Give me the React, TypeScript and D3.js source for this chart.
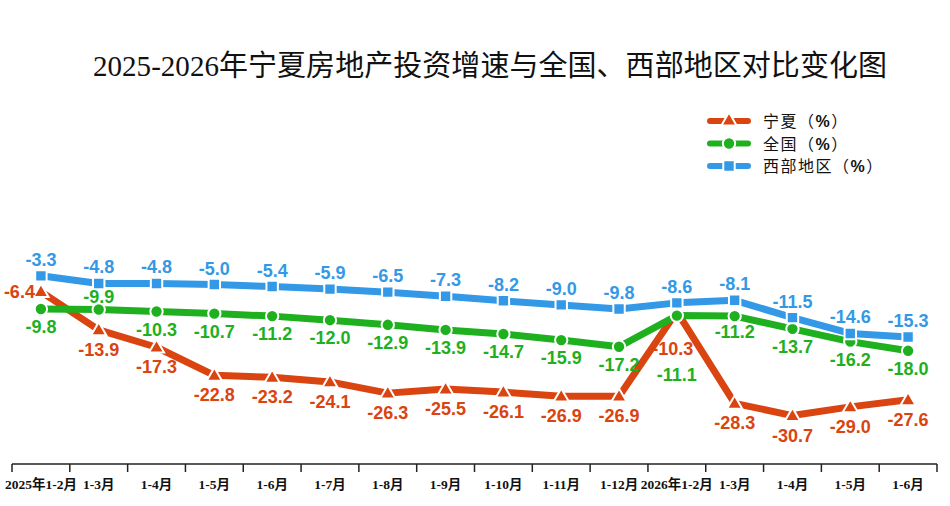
import React, { useEffect, useRef } from 'react';
import * as d3 from 'd3';

const months = [
  '2025年1-2月', '1-3月', '1-4月', '1-5月', '1-6月', '1-7月', '1-8月', '1-9月',
  '1-10月', '1-11月', '1-12月', '2026年1-2月', '1-3月 ', '1-4月 ', '1-5月 ', '1-6月 ',
];
const ningxia = [-6.4, -13.9, -17.3, -22.8, -23.2, -24.1, -26.3, -25.5, -26.1, -26.9, -26.9, -10.3, -28.3, -30.7, -29.0, -27.6];
const national = [-9.8, -9.9, -10.3, -10.7, -11.2, -12.0, -12.9, -13.9, -14.7, -15.9, -17.2, -11.1, -11.2, -13.7, -16.2, -18.0];
const western = [-3.3, -4.8, -4.8, -5.0, -5.4, -5.9, -6.5, -7.3, -8.2, -9.0, -9.8, -8.6, -8.1, -11.5, -14.6, -15.3];
const seriesNames = ['宁夏', '全国', '西部地区'];
const yDomain = [-40, 0];

const W = 950;
const H = 506;

export default function App() {
  const ref = useRef<SVGSVGElement>(null);

  useEffect(() => {
    if (!ref.current) return;
    const svg = d3.select(ref.current);
    svg.selectAll('*').remove();

    const x = d3.scaleBand<string>().domain(months).range([12, 937]).padding(0);
    const y = d3.scaleLinear().domain(yDomain).range([463, 259]);
    const cx = (i: number) => (x(months[i]) as number) + x.bandwidth() / 2;

    // title
    svg.append('text')
      .attr('x', 93).attr('y', 76)
      .attr('font-family', '"Liberation Serif", "Noto Sans CJK SC", serif')
      .attr('font-size', 29)
      .attr('textLength', 794).attr('lengthAdjust', 'spacing')
      .attr('fill', '#111')
      .text('2025-2026年宁夏房地产投资增速与全国、西部地区对比变化图');

    // x axis
    const axis = svg.append('g').attr('transform', 'translate(0,464)');
    axis.append('line').attr('x1', 12).attr('x2', 937).attr('stroke', '#222').attr('stroke-width', 1.5);
    const ticks = months.map((m) => x(m) as number).concat([937]);
    axis.selectAll('line.tick').data(ticks).join('line')
      .attr('class', 'tick')
      .attr('x1', (d) => d).attr('x2', (d) => d)
      .attr('y1', 0).attr('y2', 8)
      .attr('stroke', '#222').attr('stroke-width', 1.5);
    axis.selectAll('text').data(months).join('text')
      .attr('x', (_, i) => cx(i))
      .attr('y', 25)
      .attr('text-anchor', 'middle')
      .attr('font-family', '"Liberation Serif", "Noto Sans CJK SC", serif')
      .attr('font-weight', 'bold')
      .attr('font-size', 13.5)
      .attr('fill', '#111')
      .text((d) => d.trim());

    const series = [
      { name: seriesNames[0], values: ningxia, color: '#da4410', shape: 'triangle', dy: 26 },
      { name: seriesNames[1], values: national, color: '#1eb01e', shape: 'circle', dy: 24 },
      { name: seriesNames[2], values: western, color: '#3399e6', shape: 'square', dy: -10 },
    ];

    const symbolOf = (shape: string) =>
      shape === 'triangle' ? d3.symbolTriangle : shape === 'circle' ? d3.symbolCircle : d3.symbolSquare;
    const sizeOf = (shape: string) => (shape === 'triangle' ? 100 : shape === 'circle' ? 120 : 130);

    const line = d3.line<number>().x((_, i) => cx(i)).y((d) => y(d));

    // special label offsets
    const labelPos = (si: number, i: number, v: number) => {
      let lx = cx(i);
      let ly = y(v) + series[si].dy;
      let anchor = 'middle';
      if (si === 0 && i === 0) { lx = cx(i) - 6; ly = y(v) + 6; anchor = 'end'; }
      if (si === 1 && i === 1) { ly = y(v) - 6; }
      if (si === 0 && i === 11) { lx = cx(i) - 4; ly = y(v) + 43; }
      if (si === 1 && i === 11) { ly = y(v) + 65; }
      if (si === 1 && i === 12) { ly = y(v) + 22; }
      return { lx, ly, anchor };
    };

    series.forEach((s) => {
      const g = svg.append('g');
      g.append('path').datum(s.values)
        .attr('d', line)
        .attr('fill', 'none')
        .attr('stroke', s.color)
        .attr('stroke-width', 7)
        .attr('stroke-linejoin', 'round');
      g.selectAll('path.m').data(s.values).join('path')
        .attr('class', 'm')
        .attr('transform', (d, i) => `translate(${cx(i)},${y(d) + (s.shape === 'triangle' ? 1 : 0)})`)
        .attr('d', d3.symbol().type(symbolOf(s.shape)).size(sizeOf(s.shape))())
        .attr('fill', s.color)
        .attr('stroke', '#fff')
        .attr('stroke-width', 2);
    });

    series.forEach((s, si) => {
      svg.append('g').selectAll('text').data(s.values).join('text')
        .each(function (d, i) {
          const p = labelPos(si, i, d);
          d3.select(this)
            .attr('x', p.lx).attr('y', p.ly)
            .attr('text-anchor', p.anchor);
        })
        .attr('font-family', '"Liberation Sans", Arial, sans-serif')
        .attr('font-weight', 'bold')
        .attr('font-size', 18)
        .attr('fill', s.color)
        .text((d) => d.toFixed(1));
    });

    // legend
    const legend = svg.append('g').attr('transform', 'translate(708,121)');
    series.forEach((s, si) => {
      const row = legend.append('g').attr('transform', `translate(0,${si * 22.5})`);
      row.append('line').attr('x1', 2).attr('x2', 40).attr('stroke', s.color)
        .attr('stroke-width', 6).attr('stroke-linecap', 'round');
      row.append('path')
        .attr('transform', 'translate(21,0)')
        .attr('d', d3.symbol().type(symbolOf(s.shape)).size(sizeOf(s.shape))())
        .attr('fill', s.color).attr('stroke', '#fff').attr('stroke-width', 2);
      const t = row.append('text').attr('x', 55).attr('y', 6)
        .attr('font-family', '"Noto Sans CJK SC", sans-serif')
        .attr('font-size', 16)
        .attr('letter-spacing', 1.5)
        .attr('fill', '#111');
      t.append('tspan').text(s.name + '（');
      t.append('tspan').attr('font-weight', 'bold').attr('font-family', '"Liberation Sans", Arial, sans-serif').text('%');
      t.append('tspan').text('）');
    });
  }, []);

  return (
    <svg ref={ref} width={W} height={H} style={{ display: 'block', position: 'absolute', left: 0, top: 0, background: '#fff' }} />
  );
}
